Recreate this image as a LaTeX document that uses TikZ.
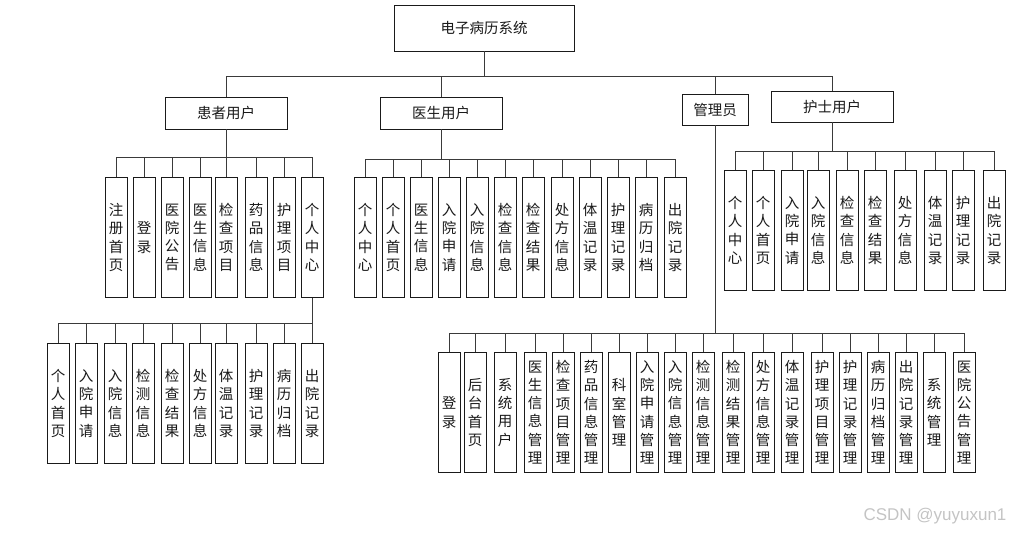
\documentclass[tikz,border=0pt]{standalone}
\usepackage{fontspec}
\newfontfamily\cjk{Noto Sans CJK SC}
\newfontfamily\wmfont{Liberation Sans}
\definecolor{ink}{HTML}{1A1A1A}
\definecolor{wire}{HTML}{3A3A3A}
\definecolor{faint}{HTML}{C4C4C4}
\tikzset{
  font=\cjk\fontsize{14.5}{18.3}\selectfont,
  %
  box/.style={draw=ink, line width=0.85pt, fill=white, inner sep=0pt, text=ink},
  sysbox/.style={box, minimum width=180pt, minimum height=46pt},
  rolebox/.style={box, minimum width=122pt, minimum height=32pt},
  leaf/.style={box, anchor=north, minimum width=22pt, minimum height=120pt,
               align=center},
  %
  wire/.style={draw=wire, line width=0.9pt},
  wm/.style={font=\wmfont\fontsize{17}{17}\selectfont, text=faint},
}

\begin{document}
\begin{tikzpicture}[x=1pt, y=-1pt]
\useasboundingbox (0,0) rectangle (1015,533);

% ---------------------------------------------------------------- top
\node[sysbox] (sys) at (484,28) {电子病历系统};

\node[rolebox] (pat) at (226,113) {患者用户};
\node[rolebox] (doc) at (441,113) {医生用户};
\node[box, minimum width=66pt, minimum height=31pt] (adm) at (715,109.5) {管理员};
\node[rolebox, minimum height=31pt] (nur) at (832,106.5) {护士用户};

\coordinate (sj) at (484,76);
\draw[wire] (sys) -- (sj);
\foreach \r in {pat,doc,adm,nur} { \draw[wire] (\r.north) |- (sj); }

% ---------------------------------------------------------------- patient
\foreach \x/\t [count=\i] in {116/注\\册\\首\\页, 144/登\\录, 172/医\\院\\公\\告,
    200/医\\生\\信\\息, 226/检\\查\\项\\目, 256/药\\品\\信\\息,
    284/护\\理\\项\\目, 312/个\\人\\中\\心}
  { \node[leaf] (p\i) at (\x,177) {\t}; }

\coordinate (pj) at (226,157);
\draw[wire] (pat) -- (pj);
\foreach \i in {1,...,8} { \draw[wire] (p\i.north) |- (pj); }

% personal centre
\foreach \x/\t [count=\i] in {58/个\\人\\首\\页, 86/入\\院\\申\\请, 115/入\\院\\信\\息,
    143/检\\测\\信\\息, 172/检\\查\\结\\果, 200/处\\方\\信\\息,
    226/体\\温\\记\\录, 256/护\\理\\记\\录, 284/病\\历\\归\\档,
    312/出\\院\\记\\录}
  { \node[leaf] (c\i) at (\x,343) {\t}; }

\coordinate (cj) at (312,323);
\draw[wire] (p8) -- (cj);
\foreach \i in {1,...,10} { \draw[wire] (c\i.north) |- (cj); }

% ---------------------------------------------------------------- doctor
\foreach \x/\t [count=\i] in {365/个\\人\\中\\心, 393/个\\人\\首\\页, 421/医\\生\\信\\息,
    449/入\\院\\申\\请, 477/入\\院\\信\\息, 505/检\\查\\信\\息,
    533/检\\查\\结\\果, 562/处\\方\\信\\息, 590/体\\温\\记\\录,
    618/护\\理\\记\\录, 646/病\\历\\归\\档, 675/出\\院\\记\\录}
  { \node[leaf] (d\i) at (\x,177) {\t}; }

\coordinate (dj) at (441,159);
\draw[wire] (doc) -- (dj);
\foreach \i in {1,...,12} { \draw[wire] (d\i.north) |- (dj); }

% ---------------------------------------------------------------- nurse
\foreach \x/\t [count=\i] in {735/个\\人\\中\\心, 763/个\\人\\首\\页, 792/入\\院\\申\\请,
    818/入\\院\\信\\息, 847/检\\查\\信\\息, 875/检\\查\\结\\果,
    905/处\\方\\信\\息, 935/体\\温\\记\\录, 963/护\\理\\记\\录,
    994/出\\院\\记\\录}
  { \node[leaf] (n\i) at (\x,170) {\t}; }

\coordinate (nj) at (832,151);
\draw[wire] (nur) -- (nj);
\foreach \i in {1,...,10} { \draw[wire] (n\i.north) |- (nj); }

% ---------------------------------------------------------------- admin
\foreach \x/\t [count=\i] in {449/登\\录, 475/后\\台\\首\\页, 505/系\\统\\用\\户,
    535/医\\生\\信\\息\\管\\理, 563/检\\查\\项\\目\\管\\理, 591/药\\品\\信\\息\\管\\理,
    619/科\\室\\管\\理, 647/入\\院\\申\\请\\管\\理, 675/入\\院\\信\\息\\管\\理,
    703/检\\测\\信\\息\\管\\理, 733/检\\测\\结\\果\\管\\理, 763/处\\方\\信\\息\\管\\理,
    792/体\\温\\记\\录\\管\\理, 822/护\\理\\项\\目\\管\\理, 850/护\\理\\记\\录\\管\\理,
    878/病\\历\\归\\档\\管\\理, 906/出\\院\\记\\录\\管\\理, 934/系\\统\\管\\理,
    964/医\\院\\公\\告\\管\\理}
  { \node[leaf] (a\i) at (\x,352) {\t}; }

\coordinate (aj) at (715,333);
\draw[wire] (adm) -- (aj);
\foreach \i in {1,...,19} { \draw[wire] (a\i.north) |- (aj); }

\node[wm] (mark0) at (935,516) {CSDN @yuyuxun1};

\end{tikzpicture}
\end{document}
